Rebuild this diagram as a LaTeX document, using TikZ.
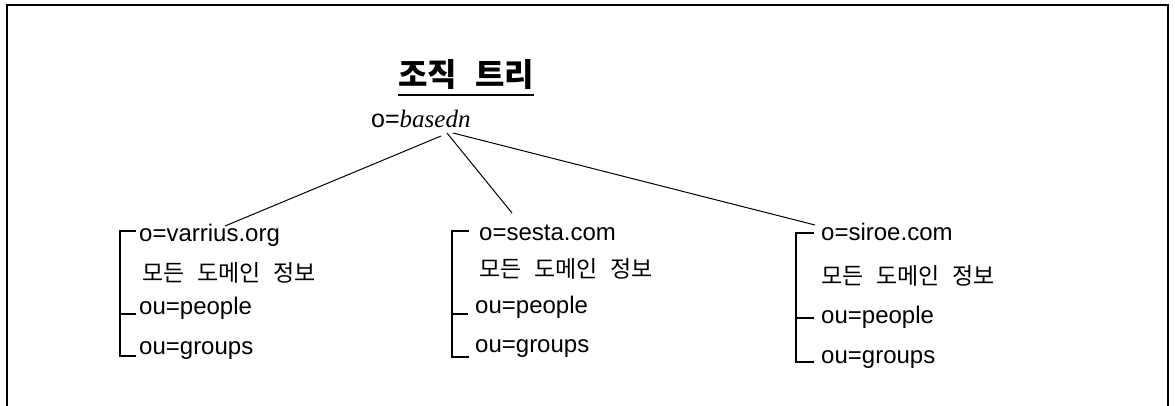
\documentclass[tikz,border=0pt]{standalone}
\usepackage{fontspec}
\setmainfont{Liberation Sans}
\newfontfamily\serifit{Liberation Serif}
\newfontfamily\kr[WordSpace=2.5]{Noto Sans CJK KR}
\begin{document}
\begin{tikzpicture}[x=1pt,y=-1pt,
  lbl/.style={anchor=base west,inner sep=0pt,font=\fontsize{24}{28}\selectfont},
  krlbl/.style={anchor=base west,inner sep=0pt,font=\kr\fontsize{23}{27}\selectfont},
  bracket/.style={line width=2pt},
  link/.style={line width=1pt},
  frame/.style={line width=2pt}]
\useasboundingbox (0,0) rectangle (1175,406);
\draw[frame] (7,406) -- (7,5.5) -- (1168,5.5) -- (1168,406);
% title
\node[anchor=base west,inner sep=0pt,font=\kr\bfseries\fontsize{32}{36}\selectfont] (title) at (398,87) {조직 트리};
\draw[line width=2.5pt] ([yshift=-8pt]title.base west) -- ([yshift=-8pt]title.base east);
\node[anchor=base west,inner sep=0pt,font=\fontsize{25}{29}\selectfont] (root) at (371,128) {o=\serifit\itshape basedn};
% group 1
\node[lbl] (g1o) at (139,241) {o=varrius.org};
\node[krlbl] (g1k) at (142,281) {모든 도메인 정보};
\node[lbl] (g1p) at (139,314.5) {ou=people};
\node[lbl] (g1g) at (139,354.5) {ou=groups};
\draw[bracket] (136,231) -- (120,231) -- (120,356) -- (136,356);
\draw[bracket] (120,314) -- (136,314);
% group 2
\node[lbl] (g2o) at (479,240.5) {o=sesta.com};
\node[krlbl] (g2k) at (479,277) {모든 도메인 정보};
\node[lbl] (g2p) at (475,313.5) {ou=people};
\node[lbl] (g2g) at (475,352.5) {ou=groups};
\draw[bracket] (469,231) -- (452,231) -- (452,357) -- (469,357);
\draw[bracket] (452,314) -- (468,314);
% group 3
\node[lbl] (g3o) at (821,240.5) {o=siroe.com};
\node[krlbl] (g3k) at (821,284) {모든 도메인 정보};
\node[lbl] (g3p) at (821,323.5) {ou=people};
\node[lbl] (g3g) at (821,363.5) {ou=groups};
\draw[bracket] (814,233) -- (796,233) -- (796,362) -- (814,362);
\draw[bracket] (796,318) -- (814,318);
% connectors
\coordinate (r1) at (441,136);
\coordinate (r2) at (447,133);
\coordinate (r3) at (453,133);
\coordinate (e1) at (225,226);
\coordinate (e2) at (512,213);
\coordinate (e3) at (815,225);
\draw[link] (r1) -- (e1);
\draw[link] (r2) -- (e2);
\draw[link] (r3) -- (e3);
\end{tikzpicture}
\end{document}
